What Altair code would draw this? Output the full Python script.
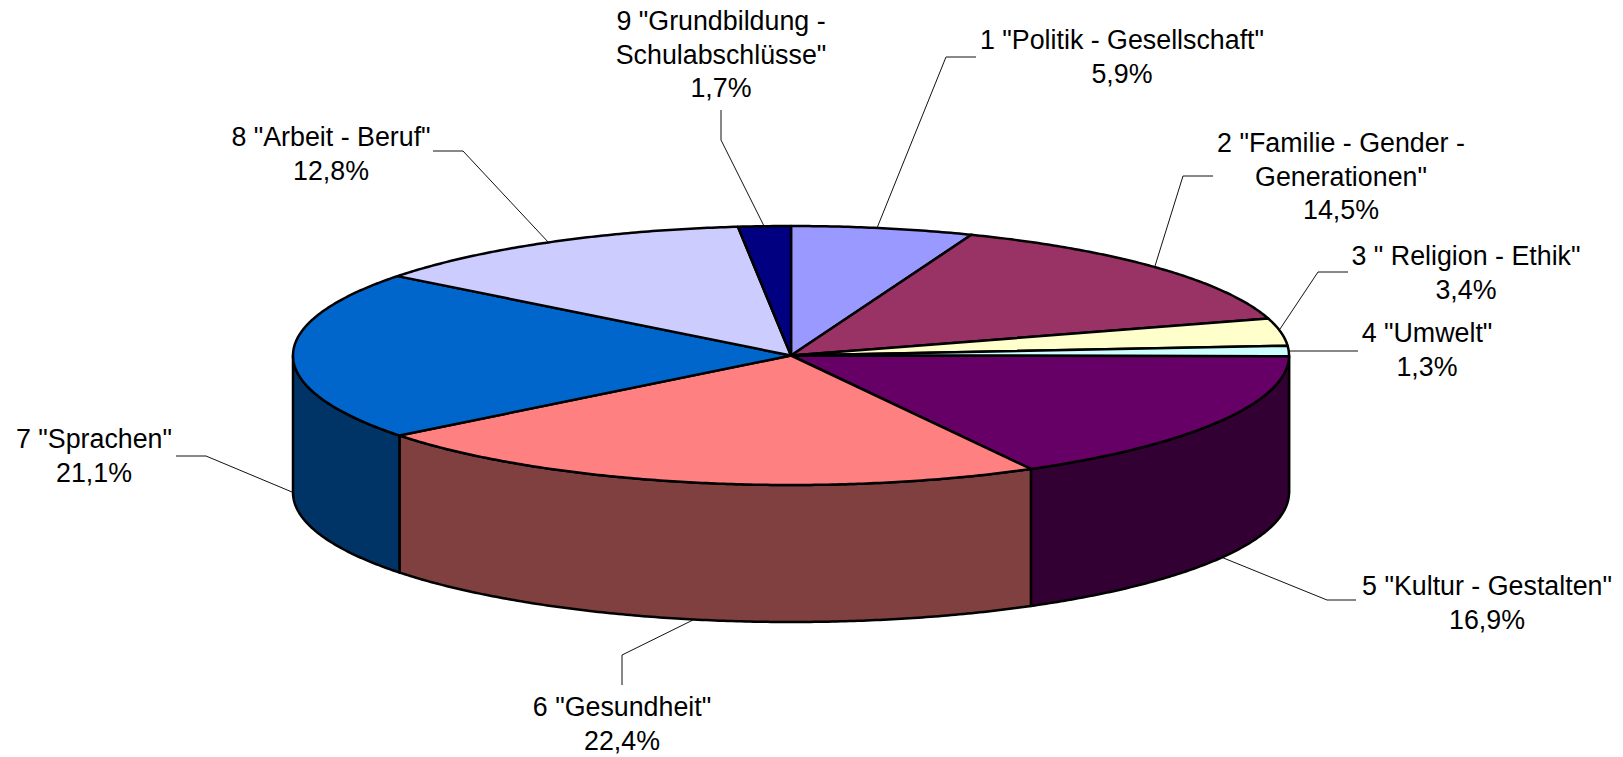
import math
import altair as alt
import pandas as pd

# --- chart values ---
names = ['1 "Politik - Gesellschaft"', '2 "Familie - Gender -\nGenerationen"', '3 " Religion - Ethik"',
         '4 "Umwelt"', '5 "Kultur - Gestalten"', '6 "Gesundheit"', '7 "Sprachen"', '8 "Arbeit - Beruf"',
         '9 "Grundbildung -\nSchulabschlüsse"']
shares = [5.9, 14.5, 3.4, 1.3, 16.9, 22.4, 21.1, 12.8, 1.7]
pct_labels = ["5,9%", "14,5%", "3,4%", "1,3%", "16,9%", "22,4%", "21,1%", "12,8%", "1,7%"]

# --- styles ---
top_colors = ["#9999FF", "#993366", "#FFFFCC", "#CCFFFF", "#660066", "#FF8080", "#0066CC", "#CCCCFF", "#000080"]
side_colors = ["#4D4D80", "#4D1A33", "#808066", "#668080", "#330033", "#804040", "#003366", "#666680", "#000040"]

# --- layout (reference pixel space) ---
CX, CY, RX, RY, DEPTH = 791, 355.5, 498, 129.5, 137
label_x = [1122, 1341, 1466, 1427, 1487, 622, 94, 331, 721]
label_y = [49, 152, 265, 342, 595, 716, 448, 146, 30]
leaders = [
    [(976, 57), (946, 57), (877, 228)],
    [(1213, 176), (1183, 176), (1155, 266)],
    [(1348, 272), (1318, 272), (1280, 329)],
    [(1358, 351), (1288, 351)],
    [(1356, 600), (1327, 600), (1221, 557)],
    [(622, 685), (622, 655), (693, 620)],
    [(176, 456), (206, 456), (292, 492)],
    [(433, 151), (463, 151), (549, 243)],
    [(721, 110), (721, 140), (764, 226)],
]


def pt(deg, dy=0.0):
    r = math.radians(deg)
    return [CX + RX * math.sin(r), CY - RY * math.cos(r) + dy]


def arc(a0, a1, dy=0.0):
    n = max(2, int(abs(a1 - a0) * 2))
    return [pt(a0 + (a1 - a0) * i / n, dy) for i in range(n + 1)]


tops, sides = [], []
cum = 0.0
total = sum(shares)
for i, s in enumerate(shares):
    a0, a1 = cum / total * 360, (cum + s) / total * 360
    cum += s
    ring = [[CX, CY]] + arc(a0, a1) + [[CX, CY]]
    tops.append({"type": "Feature", "properties": {"c": top_colors[i]},
                 "geometry": {"type": "Polygon", "coordinates": [ring]}})
    lo, hi = max(a0, 90), min(a1, 270)
    if hi > lo:
        ring = arc(lo, hi) + arc(hi, lo, DEPTH)
        ring.append(ring[0])
        sides.append({"type": "Feature", "properties": {"c": side_colors[i]},
                      "geometry": {"type": "Polygon", "coordinates": [ring]}})

W, H = 1607, 749
xs = alt.Scale(domain=[8, 8 + W])
ys = alt.Scale(domain=[8 + H, 8])
proj = alt.Projection(type="identity", scale=1, translate=[-8, -8])


def shape(features):
    return (
        alt.Chart(alt.InlineData(values=features))
        .mark_geoshape(stroke="black", strokeWidth=2.5, strokeJoin="round")
        .encode(fill=alt.Fill("properties.c:N", scale=None, legend=None),
                strokeWidth=alt.value(2.5))
        .project(**proj.to_dict())
    )


leader_df = pd.DataFrame(
    [{"id": i, "o": j, "x": p[0], "y": p[1]} for i, pts in enumerate(leaders) for j, p in enumerate(pts)]
)
leader_layer = (
    alt.Chart(leader_df)
    .mark_line(color="#111111", strokeWidth=1)
    .encode(
        x=alt.X("x:Q", scale=xs, axis=None),
        y=alt.Y("y:Q", scale=ys, axis=None),
        detail="id:N",
        order="o:Q",
    )
)

label_df = pd.DataFrame(
    {"t": [n + "\n" + p for n, p in zip(names, pct_labels)], "x": label_x, "y": label_y}
)
label_layer = (
    alt.Chart(label_df)
    .mark_text(font="Liberation Sans", fontSize=26.8, color="black", align="center",
               baseline="alphabetic", lineBreak="\n", lineHeight=33.5)
    .encode(
        x=alt.X("x:Q", scale=xs, axis=None),
        y=alt.Y("y:Q", scale=ys, axis=None),
        text="t:N",
    )
)

chart = (
    alt.layer(leader_layer, shape(sides), shape(tops), label_layer)
    .properties(width=W, height=H, padding=0, autosize=alt.AutoSizeParams(type="none"), background="white")
    .configure_view(stroke=None)
)
chart.save("out.html", embed_options={"renderer": "svg", "actions": False})
